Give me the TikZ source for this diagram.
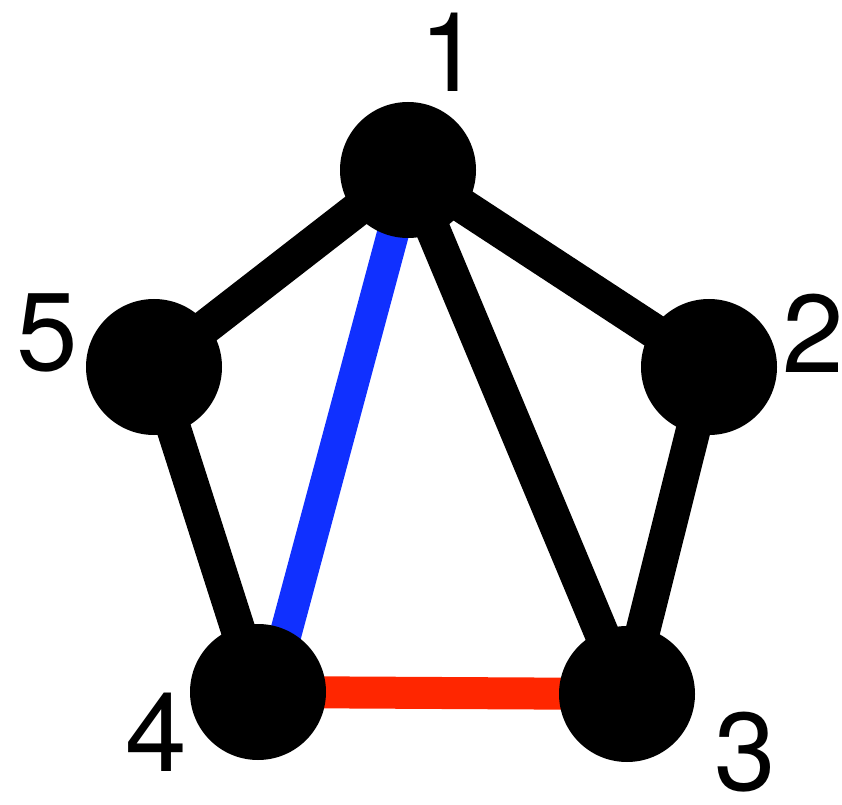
\documentclass[tikz,border=0pt]{standalone}
\usepackage{fontspec}
\setmainfont{TeX Gyre Heros}
\usepackage{tikz}
\usetikzlibrary{backgrounds}
\definecolor{edgeblue}{RGB}{16,48,255}
\definecolor{edgered}{RGB}{255,38,0}
\newcommand{\vtxsize}{102pt}
\tikzset{vtx/.style={circle, draw=none, fill=black, inner sep=0pt, minimum size=\vtxsize},
         vlabel/.style={inner sep=0pt, font=\fontsize{83}{83}\selectfont},
         graphedge/.style={line width=26pt}}

\begin{document}
\begin{tikzpicture}[x=0.75pt, y=-0.75pt]
\useasboundingbox (0,0) rectangle (842,805);

\node[vtx] (1) at (408,170) {};
\node[vtx] (2) at (709,367) {};
\node[vtx] (3) at (627,694) {};
\node[vtx] (4) at (258,692) {};
\node[vtx] (5) at (154,367) {};

\node[vlabel] (l1) at (450,52) {1};
\node[vlabel] (l2) at (813,333) {2};
\node[vlabel] (l3) at (745,752) {3};
\node[vlabel] (l4) at (156,732) {4};
\node[vlabel] (l5) at (47,333) {5};

\begin{scope}[on background layer]
\draw[graphedge] (1.center) -- (2.center) -- (3.center);
\draw[graphedge] (1.center) -- (5.center) -- (4.center);
\draw[graphedge] (1.center) -- (3.center);
\draw[graphedge, line width=24pt, edgeblue] ([xshift=1.5pt]1.center) -- ([xshift=9pt]4.center);
\draw[graphedge, line width=24pt, edgered] (4.center) -- (3.center);
\end{scope}

\end{tikzpicture}
\end{document}
